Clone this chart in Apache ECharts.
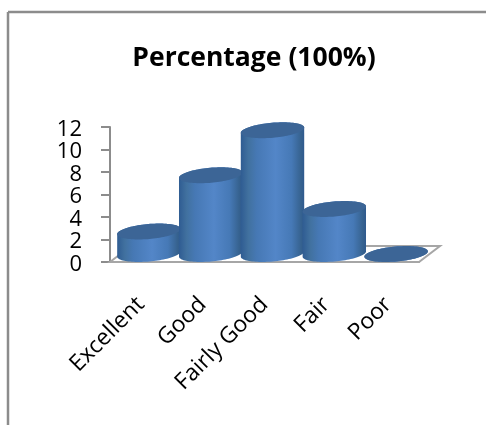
<!DOCTYPE html>
<html><head><meta charset="utf-8">
<style>html,body{margin:0;padding:0;background:#fff}#c{width:486px;height:425px}</style>
<script src="https://cdn.jsdelivr.net/npm/echarts@6/dist/echarts.min.js"></script></head>
<body><div id="c"></div>
<script>
const titleText = 'Percentage (100%)';
const categories = ['Excellent','Good','Fairly Good','Fair','Poor'];
const values = [2,7,11,4,0];
const yMax = 12;
const yStep = 2;

const chart = echarts.init(document.getElementById('c'), null, {renderer:'canvas'});
const DEPTH_X = 8, DEPTH_Y = 8, TILT = -5*Math.PI/180, RY = 7.5;
function pt(cx,cy,rx,ry,t){
  const x = rx*Math.cos(t), y = ry*Math.sin(t);
  return [cx + x*Math.cos(TILT) - y*Math.sin(TILT), cy + x*Math.sin(TILT) + y*Math.cos(TILT)];
}
function renderCyl(params, api){
  const i = api.value(0), v = api.value(1);
  const base = api.coord([i,0]), top = api.coord([i,v]);
  const w = api.size([1,0])[0];
  const rx = w*0.515;
  const bx = base[0]+DEPTH_X, by = base[1]-DEPTH_Y, ty = top[1]-DEPTH_Y;
  const body = [], cap = [];
  const N = 48;
  for(let k=0;k<=N;k++){ body.push(pt(bx,by,rx,RY,Math.PI - Math.PI*k/N)); }
  for(let k=0;k<=N;k++){ body.push(pt(bx,ty,rx,RY,-Math.PI*k/N + 0)); }
  for(let k=0;k<2*N;k++){ cap.push(pt(bx,ty,rx,RY,Math.PI*k/N)); }
  const grad = new echarts.graphic.LinearGradient(0,0,1,0,[
    {offset:0,color:'#2f5c92'},{offset:0.12,color:'#41719f'},{offset:0.25,color:'#4678b4'},
    {offset:0.55,color:'#5386c8'},{offset:0.8,color:'#4679b6'},{offset:0.95,color:'#36628f'},{offset:1,color:'#2f5a8e'}]);
  return {type:'group',children:[
    {type:'polygon',shape:{points:body},style:{fill:grad}},
    {type:'polygon',shape:{points:cap},style:{fill:'#3c6596'}}
  ]};
}
function renderFloor(params, api){
  const w = api.size([1,0])[0];
  const a = api.coord([0,0]), b = api.coord([categories.length-1,0]);
  const l = a[0]-w/2, r = b[0]+w/2, y = a[1];
  return {type:'polygon',shape:{points:[[l,y],[r,y],[r+21,y-16],[l+21,y-16]]},
    style:{fill:'#fff',stroke:'#a6a6a6',lineWidth:2}};
}
chart.setOption({
  animation:false,
  backgroundColor:'#fff',
  title:{text:titleText,left:249,top:40,textAlign:'center',
    textStyle:{fontFamily:'Open Sans',fontWeight:'bold',fontSize:26.5,color:'#000'}},
  grid:{left:110,top:127,width:309,height:135},
  xAxis:{type:'category',data:categories,
    axisLine:{lineStyle:{color:'#a6a6a6',width:2}},axisTick:{show:false},
    axisLabel:{rotate:45,interval:0,margin:39,fontFamily:'Open Sans',fontSize:22.8,color:'#000'}},
  yAxis:{type:'value',min:0,max:yMax,interval:yStep,
    axisLine:{show:true,lineStyle:{color:'#8c8c8c',width:2}},
    axisTick:{show:true,length:9,lineStyle:{color:'#8c8c8c',width:2}},
    splitLine:{show:false},
    axisLabel:{margin:28,verticalAlign:'top',lineHeight:5,fontFamily:'Open Sans',fontSize:22,color:'#000'}},
  series:[
    {type:'custom',z:1,silent:true,renderItem:renderFloor,data:[[0,0]],encode:{x:0,y:1},clip:false},
    {type:'custom',z:2,silent:true,renderItem:renderCyl,data:values.map((v,i)=>[i,v]),encode:{x:0,y:1},clip:false}
  ],
  graphic:[
    {type:'line',shape:{x1:8,y1:12,x2:486,y2:12},style:{stroke:'#8c8c8c',lineWidth:2.5}},
    {type:'line',shape:{x1:8,y1:12,x2:8,y2:425},style:{stroke:'#8c8c8c',lineWidth:2.5}}
  ]
});
</script></body></html>
